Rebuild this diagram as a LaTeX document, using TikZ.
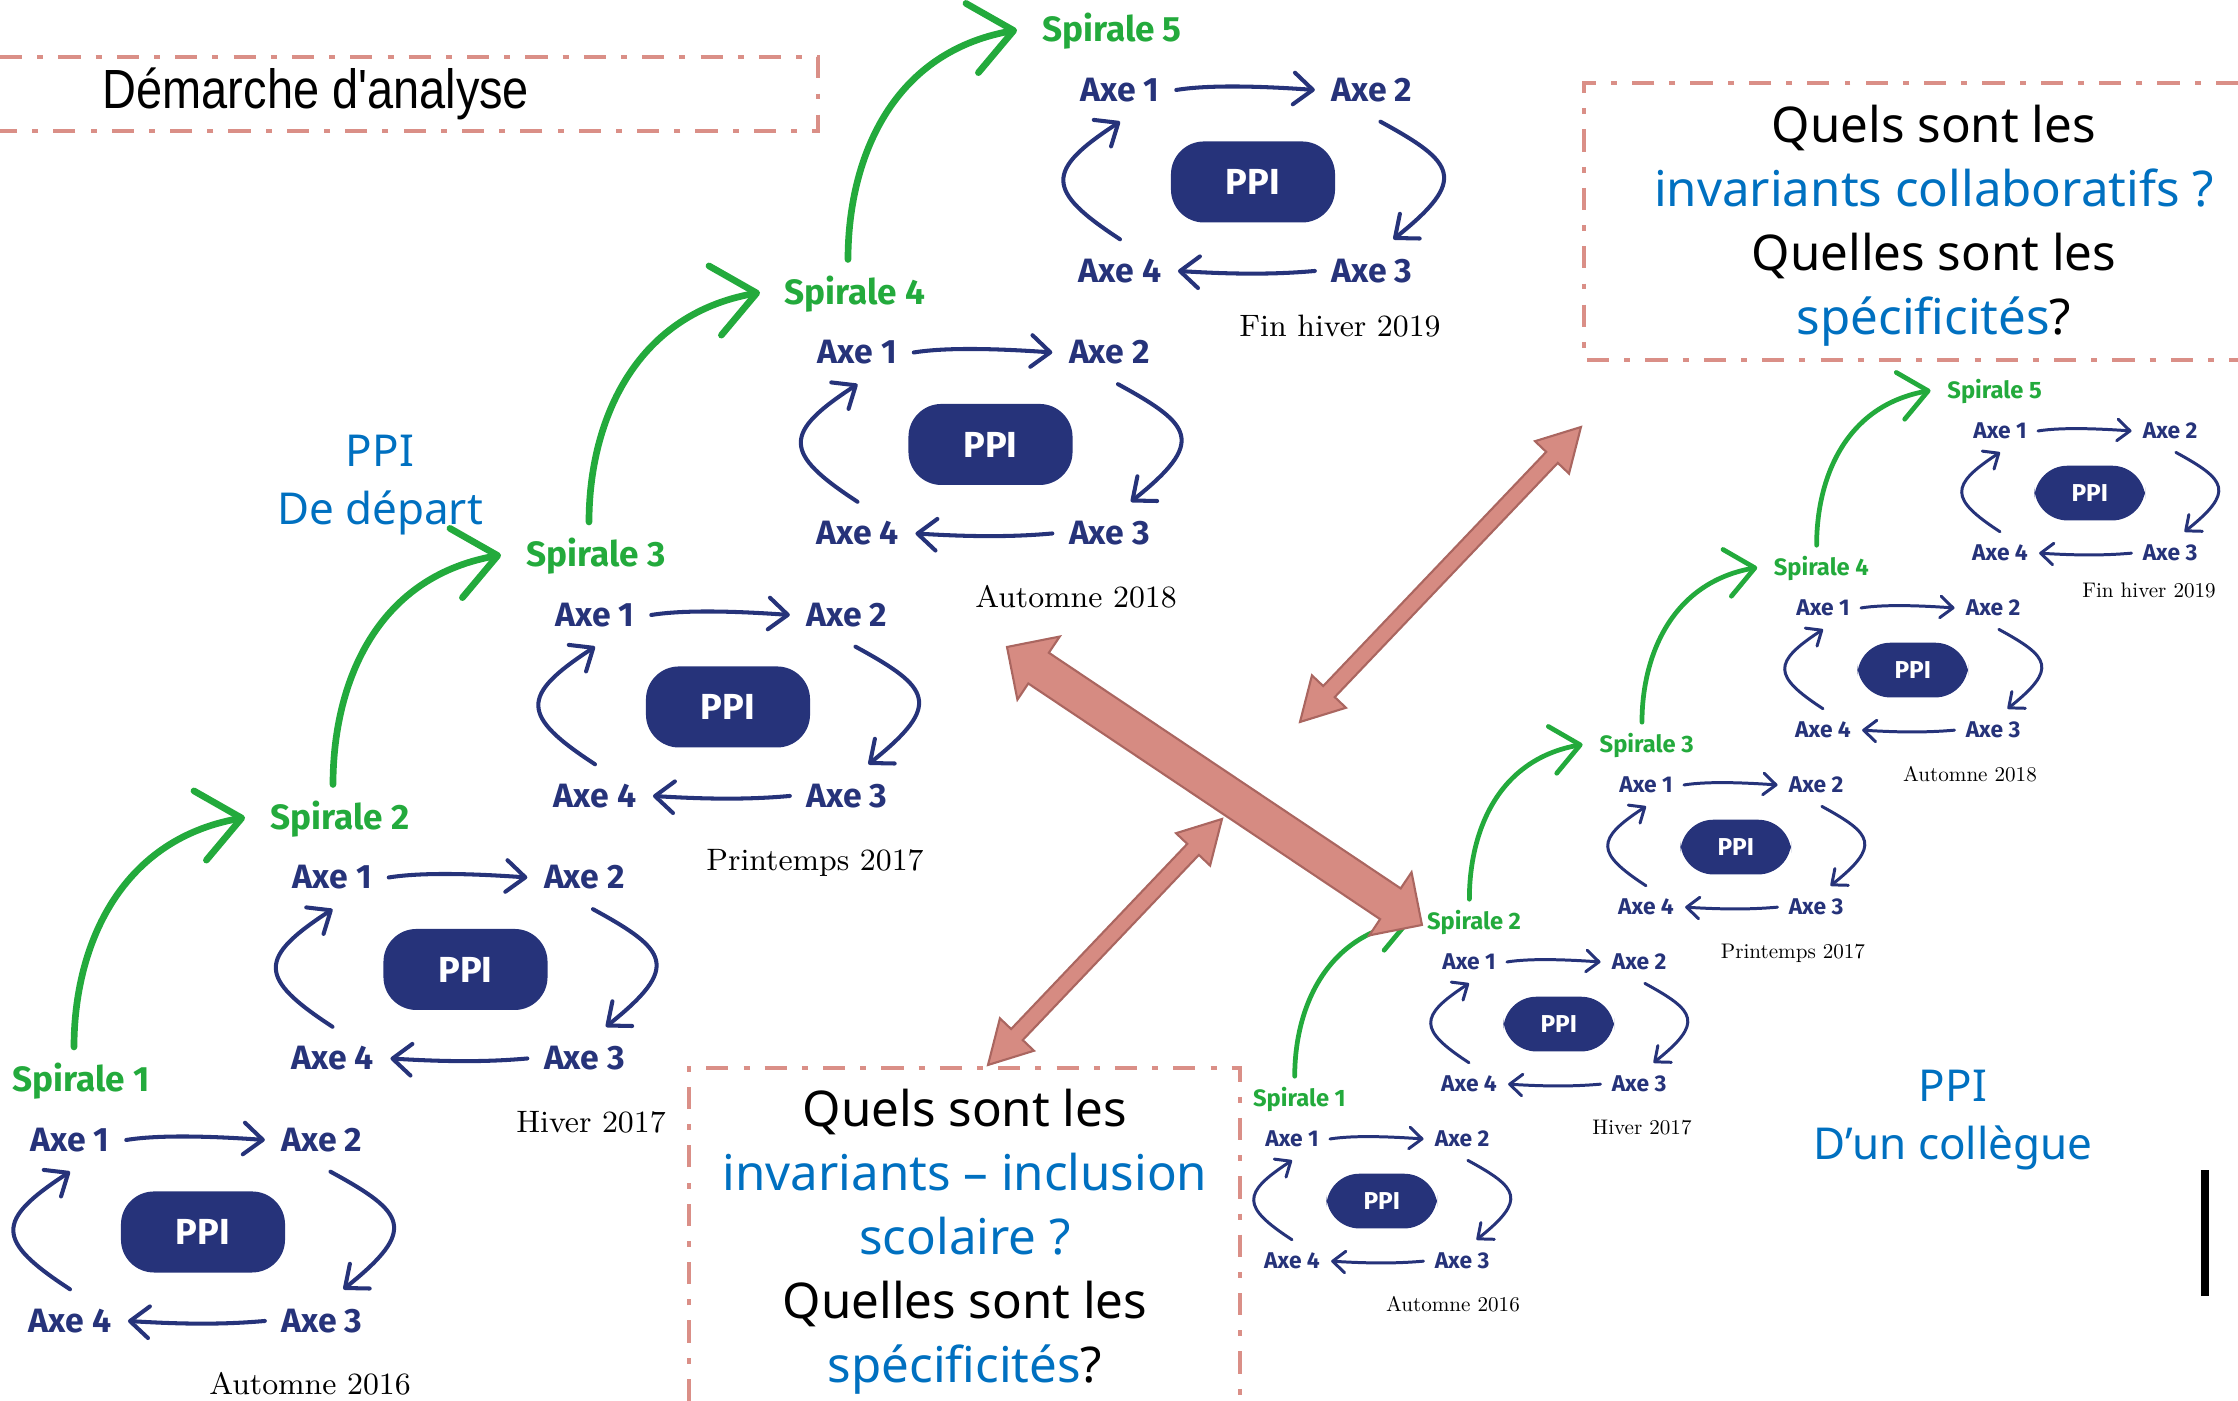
\documentclass[tikz,border=0pt]{standalone}
\usepackage{fontspec}
\usetikzlibrary{arrows.meta}
\newfontfamily\axefont{Fira Sans}
\newfontfamily\qfont{Noto Sans}
\newfontfamily\titlefont{Liberation Sans}[FakeStretch=0.85]
\newfontfamily\datefont{lmroman10-regular.otf}
\definecolor{axnavy}{RGB}{38,51,122}
\definecolor{axgreen}{RGB}{35,170,60}
\definecolor{qblue}{RGB}{0,112,192}
\definecolor{salfill}{RGB}{214,139,130}
\definecolor{salline}{RGB}{170,102,96}
\definecolor{dashcol}{RGB}{218,143,135}
\tikzset{
  axe/.style={font=\axefont\bfseries\fontsize{9.6}{12}\selectfont, text=axnavy, inner xsep=0.16cm, inner ysep=0.19cm},
  lab/.style={font=\axefont\bfseries\fontsize{10}{12}\selectfont, text=axgreen, inner sep=0pt, anchor=base},
  ppi/.style={fill=axnavy, text=white, rounded corners=0.33cm, minimum width=1.64cm, minimum height=0.81cm, inner sep=0pt, font=\axefont\bfseries\fontsize{10.3}{12}\selectfont},
  bigunit/.style={
    axarrow/.style={draw=axnavy, line width=1.15pt, line cap=round, -{Straight Barb[length=5.4pt,width=9pt,round]}},
    grarrow/.style={draw=axgreen, line width=1.9pt, line cap=round, -{Straight Barb[length=12pt,width=20pt,round]}}},
  smallunit/.style={
    axarrow/.style={draw=axnavy, line width=0.85pt, line cap=round, -{Straight Barb[length=3.6pt,width=6.1pt,round]}},
    grarrow/.style={draw=axgreen, line width=1.35pt, line cap=round, -{Straight Barb[length=8pt,width=13.5pt,round]}}},
  date/.style={font=\fontsize{8.8}{10}\selectfont, anchor=base, inner sep=0pt},
  sdate/.style={font=\datefont\fontsize{6}{7}\selectfont, anchor=base, inner sep=0pt},
  dashbox/.style={draw=dashcol, line width=1.4pt, dash pattern=on 6.3pt off 4.3pt on 1.7pt off 4.3pt},
  qtext/.style={font=\qfont\fontsize{14}{18.2}\selectfont, align=center, inner sep=0pt},
  ppilabel/.style={font=\qfont\fontsize{12.5}{16.5}\selectfont, align=center, text=qblue, inner sep=0pt},
  titletext/.style={font=\titlefont\fontsize{15.7}{18}\selectfont, inner sep=0pt},
  salarrow/.style={fill=salfill, draw=salline, line width=0.6pt, line join=miter}
}
% #1 prefix, #2 x, #3 y, #4 scale, #5 size style, #6 number, #7 label x offset
\newcommand{\spiralunit}[7]{%
  \begin{scope}[shift={(#2,#3)}, scale=#4, transform shape, #5]
    \node[axe] (#1a1) at (0,0) {Axe 1};
    \node[axe] (#1a2) at (252,0) {Axe 2};
    \node[axe] (#1a3) at (252,-181) {Axe 3};
    \node[axe] (#1a4) at (0,-181) {Axe 4};
    \node[ppi] (#1p) at (133,-92) {PPI};
    \node[lab] (#1s) at (#7,48) {Spirale #6};
    \coordinate (#1out) at ({#7-7},93);
    \coordinate (#1in) at ({#7-95},60);
    \draw[axarrow] (#1a1.east) .. controls +(37,6) and +(-43,3) .. (#1a2.west);
    \draw[axarrow] (#1a2.285) .. controls +(75,-41) and +(75,60) .. (#1a3.56);
    \draw[axarrow] (#1a3.west) .. controls +(-45,-4) and +(50,-3) .. (#1a4.east);
    \draw[axarrow] (#1a4.north) .. controls +(-75,49) and +(-75,-49) .. (#1a1.south);
  \end{scope}}
\newcommand{\greenlink}[4]{%
  \begin{scope}[scale=#3, #4]
    \draw[grarrow] (#1out) .. controls +(0,97) and +(-128,-23) .. (#2in);
  \end{scope}}
\newcommand{\blockarrow}[7]{%
  \pgfmathsetmacro{\bdx}{#3-#1}%
  \pgfmathsetmacro{\bdy}{#4-#2}%
  \pgfmathsetmacro{\bang}{atan2(\bdy,\bdx)}%
  \pgfmathsetmacro{\blen}{100*veclen(\bdx/100,\bdy/100)}%
  \pgfmathsetmacro{\bback}{\blen-#7}%
  \begin{scope}[shift={(#1,#2)}, rotate=\bang]
    \filldraw[salarrow] (0,0) -- (#7,#6) -- (#7,#5) -- (\bback,#5) -- (\bback,#6) -- (\blen,0)
      -- (\bback,-#6) -- (\bback,-#5) -- (#7,-#5) -- (#7,-#6) -- cycle;
  \end{scope}}
\begin{document}
\begin{tikzpicture}[x=0.01cm,y=0.01cm]
\useasboundingbox (0,0) rectangle (2238,1401);
% title box
\draw[dashbox] (0,1344) -- (818,1344) -- (818,1270) -- (0,1270);
\node[titletext] (title) at (316,1307) {Démarche d'analyse};
% question boxes
\draw[dashbox] (2238,1318) -- (1584,1318) -- (1584,1041) -- (2238,1041);
\node[qtext] (q1) at (1934,1175) {Quels sont les\\\textcolor{qblue}{invariants collaboratifs ?}\\Quelles sont les\\\textcolor{qblue}{spécificités}?};
\draw[dashbox] (689,0) -- (689,333) -- (1240,333) -- (1240,0);
\node[qtext] (q2) at (965,159) {Quels sont les\\\textcolor{qblue}{invariants – inclusion}\\\textcolor{qblue}{scolaire ?}\\Quelles sont les\\\textcolor{qblue}{spécificités}?};
% PPI labels
\node[ppilabel] (pd) at (380,916) {PPI\\De départ};
\node[ppilabel] (pc) at (1953,281) {PPI\\D’un collègue};
% large spirals
\spiralunit{A}{70}{261}{1}{bigunit}{1}{11}
\spiralunit{B}{332.5}{523.5}{1}{bigunit}{2}{7.5}
\spiralunit{C}{595}{786}{1}{bigunit}{3}{1}
\spiralunit{D}{857.5}{1048.5}{1}{bigunit}{4}{-2.5}
\spiralunit{E}{1120}{1311}{1}{bigunit}{5}{-8}
\greenlink{A}{B}{1}{bigunit}
\greenlink{B}{C}{1}{bigunit}
\greenlink{C}{D}{1}{bigunit}
\greenlink{D}{E}{1}{bigunit}
\node[date] (d1) at (310,6) {Automne 2016};
\node[date] (d2) at (591,268) {Hiver 2017};
\node[date] (d3) at (815,530) {Printemps 2017};
\node[date] (d4) at (1076,793) {Automne 2018};
\node[date] (d5) at (1340,1064) {Fin hiver 2019};
% small spirals
\spiralunit{F}{1292}{262}{0.675}{smallunit}{1}{11}
\spiralunit{G}{1469}{439}{0.675}{smallunit}{2}{7.5}
\spiralunit{H}{1646}{616}{0.675}{smallunit}{3}{1}
\spiralunit{I}{1823}{793}{0.675}{smallunit}{4}{-2.5}
\spiralunit{J}{2000}{970}{0.675}{smallunit}{5}{-8}
\greenlink{F}{G}{0.675}{smallunit}
\greenlink{G}{H}{0.675}{smallunit}
\greenlink{H}{I}{0.675}{smallunit}
\greenlink{I}{J}{0.675}{smallunit}
\node[sdate] (e1) at (1453,89) {Automne 2016};
\node[sdate] (e2) at (1642,266) {Hiver 2017};
\node[sdate] (e3) at (1793,442) {Printemps 2017};
\node[sdate] (e4) at (1970,619) {Automne 2018};
\node[sdate] (e5) at (2149,803) {Fin hiver 2019};
% black bar
\fill[black] (2201,105) rectangle (2209,231);
% block arrows
\blockarrow{1007}{754}{1422}{476}{18.5}{38}{38}
\blockarrow{1300}{679}{1581}{974}{8}{23.5}{42}
\blockarrow{988}{336}{1222}{582}{8}{23.5}{42}
\end{tikzpicture}
\end{document}
